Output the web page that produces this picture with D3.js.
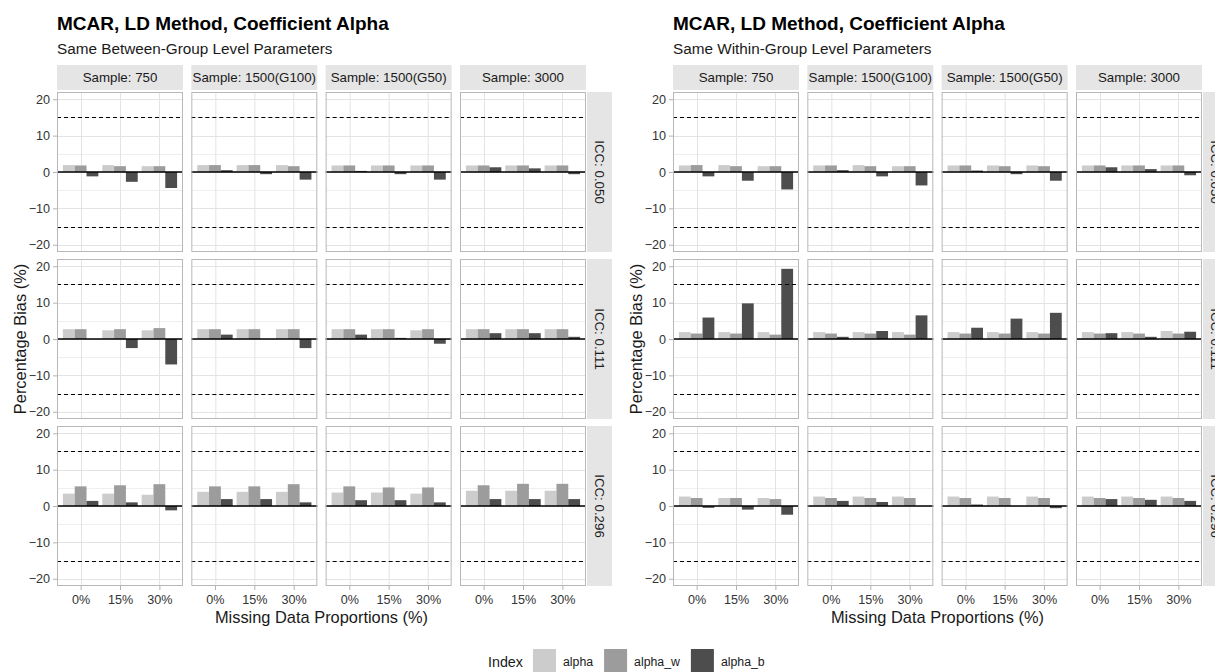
<!DOCTYPE html>
<html>
<head>
<meta charset="utf-8">
<script src="https://cdn.jsdelivr.net/npm/d3@7"></script>
<style>
  html, body { margin: 0; padding: 0; background: #ffffff; }
  svg { display: block; }
  text { font-family: "Liberation Sans", Arial, Helvetica, sans-serif; }
</style>
</head>
<body>
<svg id="chart" width="1215" height="672"></svg>
<script>
// ---------------- DATA ----------------
const chartTitle = "MCAR, LD Method, Coefficient Alpha";
const subtitles = ["Same Between-Group Level Parameters", "Same Within-Group Level Parameters"];
const samples = ["Sample: 750", "Sample: 1500(G100)", "Sample: 1500(G50)", "Sample: 3000"];
const iccs = ["ICC: 0.050", "ICC: 0.111", "ICC: 0.296"];
const missing = ["0%", "15%", "30%"];
const series = ["alpha", "alpha_w", "alpha_b"];
const yTicks = [-20, -10, 0, 10, 20];
const yMinorTicks = [-15, -5, 5, 15];
const cutoffs = [-15, 15];
const yTitle = "Percentage Bias (%)";
const xTitle = "Missing Data Proportions (%)";
const legendTitle = "Index";

// values ordered: ICC row -> sample column -> missing proportion
const betweenAlpha = [
  1.9, 1.9, 1.6,  1.9, 1.9, 1.9,  1.8, 1.8, 1.8,  1.8, 1.8, 1.8,
  2.7, 2.4, 2.4,  2.7, 2.7, 2.7,  2.7, 2.7, 2.4,  2.7, 2.7, 2.7,
  3.4, 3.4, 3.1,  3.9, 3.9, 3.9,  3.7, 3.7, 3.4,  4.2, 4.2, 4.2
];
const betweenAlphaW = [
  1.8, 1.6, 1.6,  1.9, 1.9, 1.6,  1.8, 1.8, 1.8,  1.8, 1.8, 1.8,
  2.7, 2.7, 3.0,  2.7, 2.7, 2.7,  2.7, 2.7, 2.7,  2.7, 2.7, 2.7,
  5.4, 5.7, 6.0,  5.4, 5.4, 6.0,  5.4, 5.1, 5.1,  5.7, 6.1, 6.1
];
const betweenAlphaB = [
  -1.2, -2.7, -4.4,  0.5, -0.6, -2.1,  0.3, -0.6, -2.1,  1.3, 1.0, -0.6,
   0.0, -2.5, -7.0,  1.2,  0.0, -2.5,  1.2,  0.3, -1.3,  1.6, 1.6,  0.6,
   1.4,  1.0, -1.2,  1.9,  1.9,  1.0,  1.6,  1.6,  1.0,  1.9, 1.9,  1.9
];
const withinAlpha = [
  1.8, 1.9, 1.6,  1.8, 1.9, 1.6,  1.8, 1.8, 1.8,  1.8, 1.8, 1.8,
  1.9, 1.9, 1.9,  1.9, 1.9, 1.9,  1.9, 1.9, 1.9,  1.9, 1.9, 2.2,
  2.6, 2.2, 2.2,  2.6, 2.6, 2.6,  2.6, 2.6, 2.6,  2.6, 2.6, 2.6
];
const withinAlphaW = [
  1.9, 1.6, 1.6,  1.8, 1.6, 1.6,  1.8, 1.6, 1.6,  1.8, 1.8, 1.8,
  1.5, 1.5, 1.2,  1.5, 1.5, 1.2,  1.5, 1.5, 1.5,  1.5, 1.5, 1.5,
  2.2, 2.2, 1.9,  2.2, 2.2, 2.2,  2.2, 2.2, 2.2,  2.2, 2.2, 2.2
];
const withinAlphaB = [
  -1.2, -2.4, -4.8,  0.5, -1.2, -3.7,  0.4, -0.6, -2.4,  1.3, 0.8, -0.9,
   5.9,  9.8, 19.3,  0.6,  2.2,  6.5,  3.1,  5.6,  7.2,  1.6, 0.6,  2.0,
  -0.5, -1.0, -2.4,  1.4,  1.1,  0.0,  0.4,  0.0, -0.6,  1.9, 1.7,  1.4
];

// ---------------- LAYOUT ----------------
const W = 1215, H = 672;
const chartOffset = 616;
const panelLeft = 57, panelStep = 134.33, panelW = 126;
const rowTop = 92, rowStep = 167, panelH = 160;
const stripTop = 65, stripH = 25;
const rStripGap = 1, rStripW = 25;
const fills = ["#CCCCCC", "#9C9C9C", "#4D4D4D"];

const svg = d3.select("#chart");
svg.append("rect").attr("width", W).attr("height", H).attr("fill", "#ffffff");

const color = d3.scaleOrdinal().domain(series).range(fills);
const y = d3.scaleLinear().domain([-22, 22]).range([panelH, 0]);
const x = d3.scalePoint().domain(missing).range([0, panelW]).padding(0.6);
const step = x.step();
const xs = d3.scaleBand().domain(series).range([-0.45 * step, 0.45 * step]).padding(0);

function buildRows(a, aw, ab) {
  const rows = [];
  const src = [a, aw, ab];
  iccs.forEach((icc, r) => {
    samples.forEach((s, c) => {
      missing.forEach((m, k) => {
        series.forEach((se, si) => {
          rows.push({ icc, sample: s, miss: m, series: se, value: src[si][r * 12 + c * 3 + k], r, c });
        });
      });
    });
  });
  return rows;
}

function drawChart(offsetX, subtitle, data) {
  const g = svg.append("g").attr("transform", `translate(${offsetX},0)`);

  g.append("text").attr("x", 57).attr("y", 30)
    .attr("font-size", 19).attr("font-weight", "bold").attr("fill", "#000")
    .text(chartTitle);
  g.append("text").attr("x", 57).attr("y", 54)
    .attr("font-size", 15.3).attr("fill", "#1a1a1a")
    .text(subtitle);

  // top strips
  samples.forEach((s, c) => {
    const px = panelLeft + c * panelStep;
    g.append("rect").attr("x", px).attr("y", stripTop).attr("width", panelW).attr("height", stripH)
      .attr("fill", "#E5E5E5");
    g.append("text").attr("x", px + panelW / 2).attr("y", stripTop + stripH / 2)
      .attr("dy", "0.36em").attr("text-anchor", "middle")
      .attr("font-size", 13.3).attr("fill", "#1a1a1a").text(s);
  });

  // right strips
  const rsx = panelLeft + 3 * panelStep + panelW + rStripGap;
  iccs.forEach((icc, r) => {
    const py = rowTop + r * rowStep;
    g.append("rect").attr("x", rsx).attr("y", py).attr("width", rStripW).attr("height", panelH)
      .attr("fill", "#E5E5E5");
    g.append("text")
      .attr("transform", `translate(${rsx + rStripW / 2},${py + panelH / 2}) rotate(90)`)
      .attr("dy", "0.36em").attr("text-anchor", "middle")
      .attr("font-size", 13.3).attr("fill", "#1a1a1a").text(icc);
  });

  iccs.forEach((icc, r) => {
    samples.forEach((s, c) => {
      const px = panelLeft + c * panelStep, py = rowTop + r * rowStep;
      const p = g.append("g").attr("transform", `translate(${px},${py})`);
      p.append("rect").attr("width", panelW).attr("height", panelH).attr("fill", "#fff");

      // minor grid
      p.selectAll(".ymin").data(yMinorTicks).join("line")
        .attr("x1", 0).attr("x2", panelW)
        .attr("y1", d => Math.round(y(d)) + 0.5).attr("y2", d => Math.round(y(d)) + 0.5)
        .attr("stroke", "#EFEFEF").attr("stroke-width", 1);
      // major grid
      p.selectAll(".ymaj").data(yTicks).join("line")
        .attr("x1", 0).attr("x2", panelW)
        .attr("y1", d => Math.round(y(d)) + 0.5).attr("y2", d => Math.round(y(d)) + 0.5)
        .attr("stroke", "#E3E3E3").attr("stroke-width", 1);
      p.selectAll(".xmaj").data(missing).join("line")
        .attr("x1", d => Math.round(x(d)) + 0.5).attr("x2", d => Math.round(x(d)) + 0.5)
        .attr("y1", 0).attr("y2", panelH)
        .attr("stroke", "#E3E3E3").attr("stroke-width", 1);

      // bars
      const pd = data.filter(d => d.r === r && d.c === c);
      p.selectAll(".bar").data(pd).join("rect")
        .attr("x", d => x(d.miss) + xs(d.series))
        .attr("width", xs.bandwidth())
        .attr("y", d => y(Math.max(0, d.value)))
        .attr("height", d => Math.abs(y(d.value) - y(0)))
        .attr("fill", d => color(d.series));

      // reference lines
      p.selectAll(".cut").data(cutoffs).join("line")
        .attr("x1", 0).attr("x2", panelW)
        .attr("y1", d => Math.round(y(d)) + 0.5).attr("y2", d => Math.round(y(d)) + 0.5)
        .attr("stroke", "#000").attr("stroke-width", 1).attr("stroke-dasharray", "4,3");
      p.append("line").attr("x1", 0).attr("x2", panelW)
        .attr("y1", y(0)).attr("y2", y(0))
        .attr("stroke", "#000").attr("stroke-width", 1.3);

      // border
      p.append("rect").attr("x", 0.5).attr("y", 0.5).attr("width", panelW - 1).attr("height", panelH - 1)
        .attr("fill", "none").attr("stroke", "#B8B8B8").attr("stroke-width", 1);

      if (c === 0) {
        const ax = p.append("g").call(d3.axisLeft(y).tickValues(yTicks).tickSize(4).tickPadding(3));
        ax.select(".domain").remove();
        ax.selectAll("line").attr("stroke", "#B3B3B3");
        ax.selectAll("text").attr("font-size", 12.6).attr("fill", "#333333")
          .attr("font-family", '"Liberation Sans", Arial, sans-serif');
      }
      if (r === iccs.length - 1) {
        const ax = p.append("g").attr("transform", `translate(0,${panelH})`)
          .call(d3.axisBottom(x).tickSize(4).tickPadding(5.5));
        ax.select(".domain").remove();
        ax.selectAll("line").attr("stroke", "#B3B3B3");
        ax.selectAll("text").attr("font-size", 12.6).attr("fill", "#333333")
          .attr("font-family", '"Liberation Sans", Arial, sans-serif');
      }
    });
  });

  const panelsRight = panelLeft + 3 * panelStep + panelW;
  const panelsBottom = rowTop + 2 * rowStep + panelH;
  g.append("text").attr("x", (panelLeft + panelsRight) / 2).attr("y", 623)
    .attr("text-anchor", "middle").attr("font-size", 16.4).attr("fill", "#1a1a1a").text(xTitle);
  g.append("text")
    .attr("transform", `translate(20,${(rowTop + panelsBottom) / 2}) rotate(-90)`)
    .attr("dy", "0.36em").attr("text-anchor", "middle")
    .attr("font-size", 16.4).attr("fill", "#1a1a1a").text(yTitle);
}

drawChart(0, subtitles[0], buildRows(betweenAlpha, betweenAlphaW, betweenAlphaB));
drawChart(chartOffset, subtitles[1], buildRows(withinAlpha, withinAlphaW, withinAlphaB));

// ---------------- LEGEND ----------------
const lg = svg.append("g");
let lx = 488;
const keySize = 23, keyTop = 649;
const lt = lg.append("text").attr("x", lx).attr("y", 667).attr("font-size", 14.3).attr("fill", "#1a1a1a").text(legendTitle);
lx += lt.node().getComputedTextLength() + 10;
series.forEach(s => {
  lg.append("rect").attr("x", lx).attr("y", keyTop).attr("width", keySize).attr("height", keySize).attr("fill", color(s));
  lx += keySize + 7;
  const t = lg.append("text").attr("x", lx).attr("y", 666).attr("font-size", 12.3).attr("fill", "#1a1a1a").text(s);
  lx += t.node().getComputedTextLength() + 11;
});
</script>
</body>
</html>
